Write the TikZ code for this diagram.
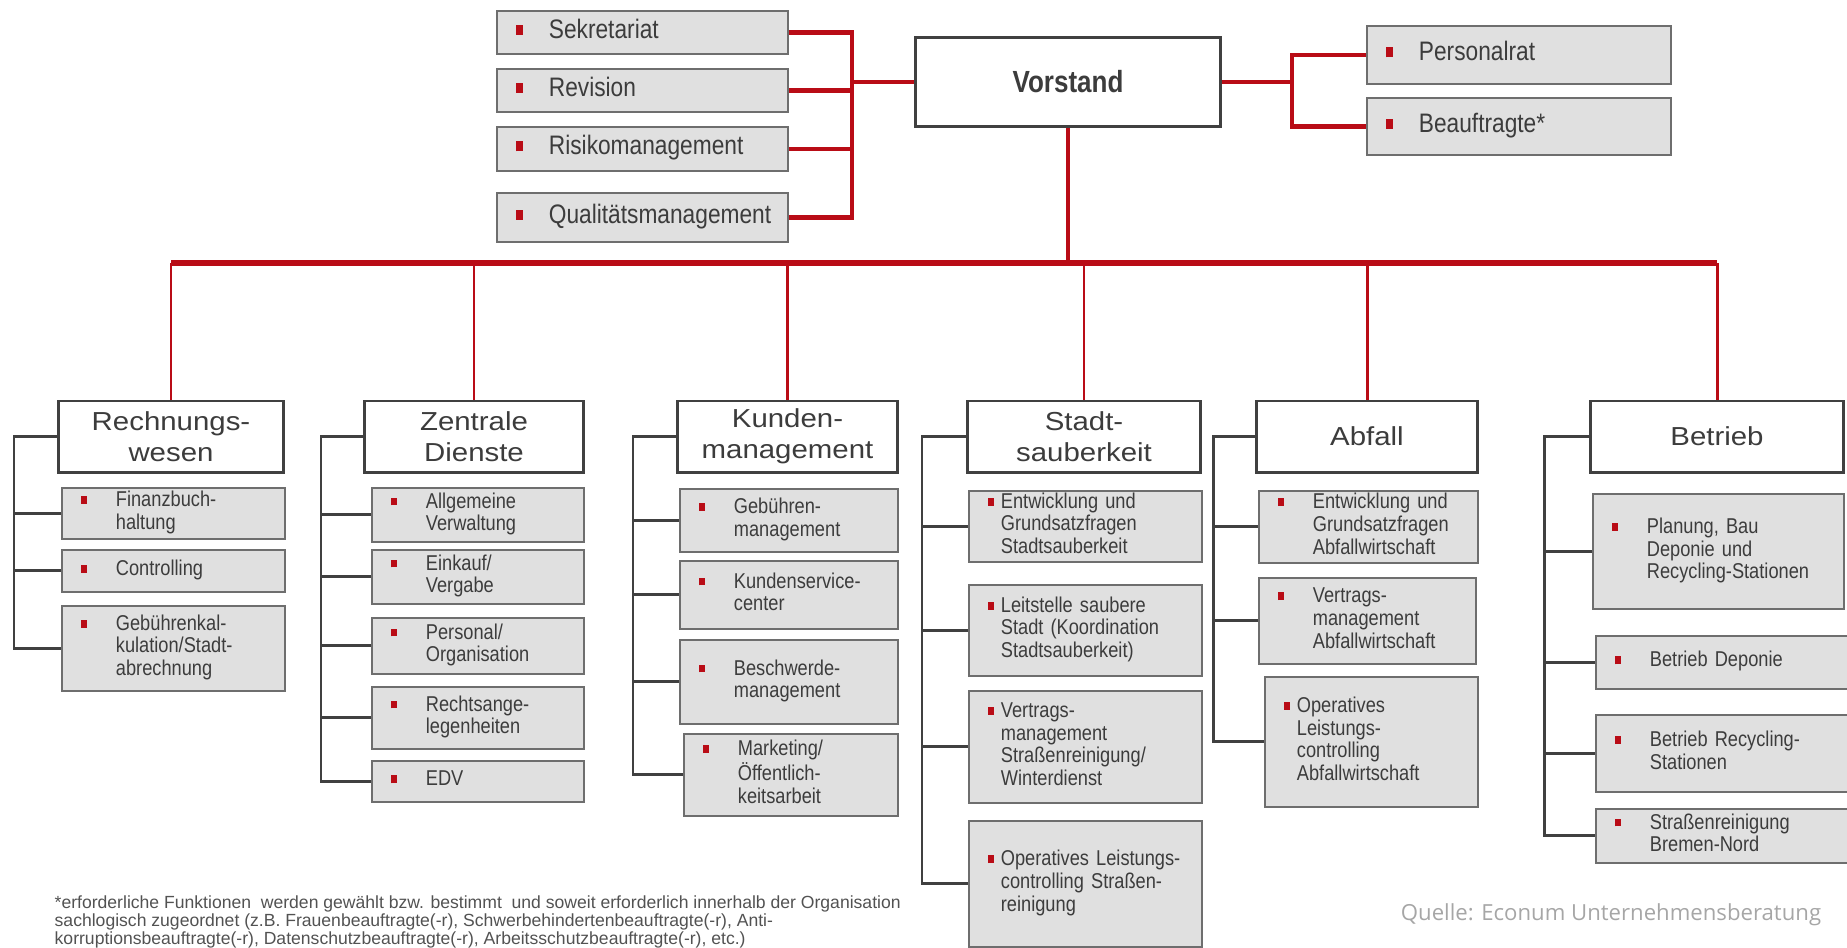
\documentclass[tikz,border=0pt]{standalone}
\usepackage{fontspec}
\setmainfont{Liberation Sans}
\newfontfamily\narrowfont[FakeStretch=0.85]{Liberation Sans}
\newfontfamily\widefont[FakeStretch=1.13]{Liberation Sans}
\newfontfamily\quellefont{Open Sans}

\definecolor{mred}{RGB}{185,12,22}
\definecolor{boxfill}{RGB}{224,224,224}
\definecolor{boxline}{RGB}{110,110,110}
\definecolor{treegray}{RGB}{64,64,64}
\definecolor{txtgray}{RGB}{60,60,60}

\newcommand{\bul}{\textcolor{mred}{\rule[0.12em]{0.28em}{0.37em}}}
\newcommand{\entry}[2][0.35cm]{\makebox[#1][l]{\bul}\begin{tabular}[t]{@{}l@{}}#2\end{tabular}}
\newcommand{\notefont}{\fontsize{5.0}{5.0}\selectfont\lineskiplimit-10pt\relax}

\begin{document}
\begin{tikzpicture}[
        x=0.01cm, y=-0.01cm,
        staff/.style={draw=boxline, fill=boxfill, line width=0.5pt, anchor=north west,
            inner xsep=0.19cm, inner ysep=0pt, align=left, text=txtgray,
            font=\narrowfont\fontsize{7.6}{8}\selectfont},
        unit/.style={staff, font=\narrowfont\fontsize{6.1}{6.5}\selectfont},
        head/.style={draw=treegray, fill=white, line width=0.85pt, minimum height=0.71cm,
            inner sep=0pt, align=center, text=txtgray, font=\widefont\fontsize{7.4}{8.8}\selectfont},
        link/.style={draw=mred, line width=1.2pt},
        bus/.style={draw=mred, line width=1.6pt},
        drop/.style={draw=mred, line width=0.85pt},
        tree/.style={draw=treegray, line width=0.85pt}
    ]
    \useasboundingbox (0,0) rectangle (1847,947);

    % --- Vorstand and staff units ---
    \node[head, minimum width=3.04cm, minimum height=0.88cm,
          font=\narrowfont\bfseries\fontsize{8.7}{9}\selectfont] (vs) at (1068,82) {Vorstand};

    \node[staff, text width=2.53cm, minimum height=0.43cm] (sek) at (496,10) {\entry[0.33cm]{Sekretariat}};
    \node[staff, text width=2.53cm, minimum height=0.43cm] (rev) at (496,68) {\entry[0.33cm]{Revision}};
    \node[staff, text width=2.53cm, minimum height=0.44cm] (risk) at (496,126) {\entry[0.33cm]{Risikomanagement}};
    \node[staff, text width=2.53cm, minimum height=0.49cm] (qual) at (496,192) {\entry[0.33cm]{Qualitätsmanagement}};

    \node[staff, text width=2.66cm, minimum height=0.58cm] (pers) at (1366,25) {\entry[0.33cm]{Personalrat}};
    \node[staff, text width=2.66cm, minimum height=0.57cm] (beau) at (1366,97) {\entry[0.33cm]{Beauftragte*}};

    % --- Departments ---
    \node[head, minimum width=2.24cm] (rw) at (171,436.5) {Rechnungs-\\wesen};
    \node[head, minimum width=2.18cm] (zd) at (474,436.5) {Zentrale\\Dienste};
    \node[head, minimum width=2.19cm] (km) at (787.5,436.5) {Kunden-\\management};
    \node[head, minimum width=2.32cm] (ss) at (1084,436.5) {Stadt-\\sauberkeit};
    \node[head, minimum width=2.20cm] (ab) at (1367,436.5) {Abfall};
    \node[head, minimum width=2.52cm] (be) at (1717,436.5) {Betrieb};

    % Rechnungswesen
    \node[unit, text width=1.85cm, minimum height=0.51cm] (rw1) at (61,487) {\entry{Finanzbuch-\\haltung}};
    \node[unit, text width=1.85cm, minimum height=0.42cm] (rw2) at (61,549) {\entry{Controlling}};
    \node[unit, text width=1.85cm, minimum height=0.85cm] (rw3) at (61,605) {\entry{Gebührenkal-\\kulation/Stadt-\\abrechnung}};

    % Zentrale Dienste
    \node[unit, text width=1.74cm, minimum height=0.54cm] (zd1) at (371,487) {\entry{Allgemeine\\Verwaltung}};
    \node[unit, text width=1.74cm, minimum height=0.54cm] (zd2) at (371,549) {\entry{Einkauf/\\Vergabe}};
    \node[unit, text width=1.74cm, minimum height=0.56cm] (zd3) at (371,617) {\entry{Personal/\\Organisation}};
    \node[unit, text width=1.74cm, minimum height=0.62cm] (zd4) at (371,686) {\entry{Rechtsange-\\legenheiten}};
    \node[unit, text width=1.74cm, minimum height=0.41cm] (zd5) at (371,760) {\entry{EDV}};

    % Kundenmanagement
    \node[unit, text width=1.80cm, minimum height=0.63cm] (km1) at (679,488) {\entry{Gebühren-\\management}};
    \node[unit, text width=1.80cm, minimum height=0.68cm] (km2) at (679,560) {\entry{Kundenservice-\\center}};
    \node[unit, text width=1.80cm, minimum height=0.84cm] (km3) at (679,639) {\entry{Beschwerde-\\management}};
    \node[unit, text width=1.76cm, minimum height=0.82cm] (km4) at (683,733) {\entry{Marketing/\\Öffentlich-\\keitsarbeit}};

    % Stadtsauberkeit
    \node[unit, text width=1.95cm, minimum height=0.71cm] (ss1) at (968,490) {\entry[0.13cm]{Entwicklung und\\Grundsatzfragen\\Stadtsauberkeit}};
    \node[unit, text width=1.95cm, minimum height=0.91cm] (ss2) at (968,584) {\entry[0.13cm]{Leitstelle saubere\\Stadt (Koordination\\Stadtsauberkeit)}};
    \node[unit, text width=1.95cm, minimum height=1.12cm] (ss3) at (968,690) {\entry[0.13cm]{Vertrags-\\management\\Straßenreinigung/\\Winterdienst}};
    \node[unit, text width=1.95cm, minimum height=1.26cm] (ss4) at (968,820) {\entry[0.13cm]{Operatives Leistungs-\\controlling Straßen-\\reinigung}};

    % Abfall
    \node[unit, text width=1.81cm, minimum height=0.72cm] (ab1) at (1258,490) {\entry{Entwicklung und\\Grundsatzfragen\\Abfallwirtschaft}};
    \node[unit, text width=1.79cm, minimum height=0.86cm] (ab2) at (1258,577) {\entry{Vertrags-\\management\\Abfallwirtschaft}};
    \node[unit, text width=1.75cm, minimum height=1.30cm] (ab3) at (1264,676) {\entry[0.13cm]{Operatives\\Leistungs-\\controlling\\Abfallwirtschaft}};

    % Betrieb
    \node[unit, text width=2.13cm, minimum height=1.15cm] (be1) at (1592,493) {\entry{Planung, Bau\\Deponie und\\Recycling-Stationen}};
    \node[unit, text width=2.14cm, minimum height=0.53cm] (be2) at (1595,635) {\entry{Betrieb Deponie}};
    \node[unit, text width=2.14cm, minimum height=0.77cm] (be3) at (1595,714) {\entry{Betrieb Recycling-\\Stationen}};
    \node[unit, text width=2.14cm, minimum height=0.54cm] (be4) at (1595,808) {\entry{Straßenreinigung\\Bremen-Nord}};

    % --- Red lines ---
    \coordinate (lbar) at (852,0);
    \coordinate (rbar) at (1292,0);
    \coordinate (bus) at (0,263);

    \draw[link] (sek.east) -| (lbar |- qual.east) -- (qual.east);
    \draw[link] (rev.east) -- (lbar |- rev.east);
    \draw[link] (risk.east) -- (lbar |- risk.east);
    \draw[link] (lbar |- vs.west) -- (vs.west);

    \draw[link] (pers.west) -| (rbar |- beau.west) -- (beau.west);
    \draw[link] (vs.east) -- (rbar |- vs.east);

    \draw[link] (vs.south) -- (vs.south |- bus);
    \draw[bus] (rw.north |- bus) -- (be.north |- bus);
    \foreach \d in {rw,zd,km,ss,ab,be}
        \draw[drop] (\d.north |- bus) -- (\d.north);

    % --- Grey brackets ---
    \coordinate (rwbar) at (14,0);
    \coordinate (zdbar) at (321,0);
    \coordinate (kmbar) at (633,0);
    \coordinate (ssbar) at (922,0);
    \coordinate (abbar) at (1213,0);
    \coordinate (bebar) at (1544,0);

    \draw[tree] (rw.west) -| (rwbar |- rw3.west) -- (rw3.west);
    \foreach \u in {rw1,rw2} \draw[tree] (\u.west) -- (rwbar |- \u.west);

    \draw[tree] (zd.west) -| (zdbar |- zd5.west) -- (zd5.west);
    \foreach \u in {zd1,zd2,zd3,zd4} \draw[tree] (\u.west) -- (zdbar |- \u.west);

    \draw[tree] (km.west) -| (kmbar |- km4.west) -- (km4.west);
    \foreach \u in {km1,km2,km3} \draw[tree] (\u.west) -- (kmbar |- \u.west);

    \draw[tree] (ss.west) -| (ssbar |- ss4.west) -- (ss4.west);
    \foreach \u in {ss1,ss2,ss3} \draw[tree] (\u.west) -- (ssbar |- \u.west);

    \draw[tree] (ab.west) -| (abbar |- ab3.west) -- (ab3.west);
    \foreach \u in {ab1,ab2} \draw[tree] (\u.west) -- (abbar |- \u.west);

    \draw[tree] (be.west) -| (bebar |- be4.west) -- (be4.west);
    \foreach \u in {be1,be2,be3} \draw[tree] (\u.west) -- (bebar |- \u.west);

    % --- Footnote and source ---
    \node[anchor=base west, inner sep=0pt, align=left, text=black!68, font=\notefont] (note) at (54,944)
        {*erforderliche Funktionen\ \ werden gewählt bzw. bestimmt\ \ und soweit erforderlich innerhalb der Organisation\\
         sachlogisch\ zugeordnet\ (z.B. Frauenbeauftragte(-r),\ Schwerbehindertenbeauftragte(-r),\ Anti-\\
         korruptionsbeauftragte(-r),\ Datenschutzbeauftragte(-r),\ Arbeitsschutzbeauftragte(-r),\ etc.)};
    \node[text=black!35, font=\quellefont\fontsize{6.3}{7}\selectfont] (src) at (1611,915)
        {Quelle: Econum Unternehmensberatung};

\end{tikzpicture}
\end{document}
